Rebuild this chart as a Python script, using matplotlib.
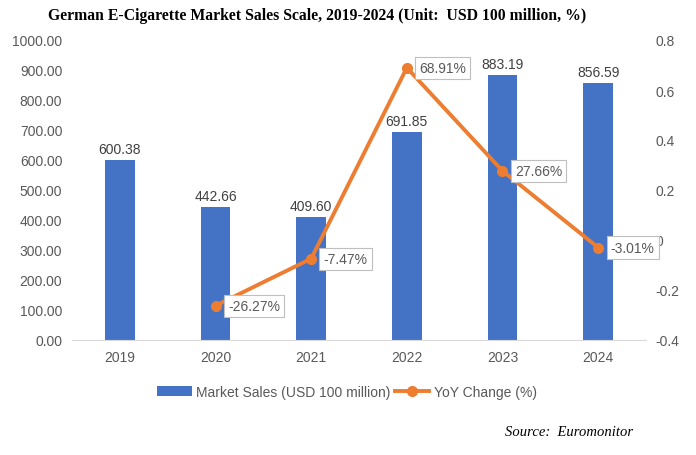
import numpy as np
import matplotlib.pyplot as plt

plt.rcParams['font.family'] = ['Liberation Sans', 'DejaVu Sans']

years = ['2019', '2020', '2021', '2022', '2023', '2024']
sales = [600.38, 442.66, 409.60, 691.85, 883.19, 856.59]
yoy = [None, -0.2627, -0.0747, 0.6891, 0.2766, -0.0301]
yoy_labels = ['', '-26.27%', '-7.47%', '68.91%', '27.66%', '-3.01%']

blue = '#4472C4'
orange = '#ED7D31'
grey = '#595959'

fig = plt.figure(figsize=(6.96, 4.56), dpi=100)
ax = fig.add_axes([72/696, 1 - 341/456, 574/696, 300/456])
ax2 = ax.twinx()

x = np.arange(len(years))
bars = ax.bar(x, sales, width=0.31, color=blue, label='Market Sales (USD 100 million)', zorder=2)
for xi, v in zip(x, sales):
    ax.text(xi, v + 14, f'{v:.2f}', ha='center', va='bottom', fontsize=10, color='#404040')

ax.set_ylim(0, 1000)
ax.set_yticks(np.arange(0, 1001, 100))
ax.set_yticklabels([f'{v:.2f}' for v in np.arange(0, 1001, 100)])
ax.set_xlim(-0.5, len(years) - 0.5)
ax.set_xticks(x)
ax.set_xticklabels(years)

xl = x[1:]
yl = yoy[1:]
line, = ax2.plot(xl, yl, color=orange, lw=2.8, marker='o', ms=7, label='YoY Change (%)', zorder=3)
for xi, v, t in zip(xl, yl, yoy_labels[1:]):
    ax2.annotate(t, (xi, v), xytext=(9, 0), textcoords='offset points', ha='left', va='center',
                 fontsize=10, color=grey,
                 bbox=dict(boxstyle='square,pad=0.3', fc='white', ec='#BFBFBF', lw=0.8))
ax2.set_ylim(-0.4, 0.8)
ax2.set_yticks(np.arange(-0.4, 0.81, 0.2))
ax2.set_yticklabels(['-0.4', '-0.2', '0', '0.2', '0.4', '0.6', '0.8'])

for a in (ax, ax2):
    for s in a.spines.values():
        s.set_visible(False)
    a.tick_params(length=0, labelsize=10, labelcolor=grey, pad=7)
ax.spines['bottom'].set_visible(True)
ax.spines['bottom'].set_color('#D9D9D9')

fig.text(317/696, 1 - 16/456, 'German E-Cigarette Market Sales Scale, 2019-2024 (Unit:  USD 100 million, %)',
         ha='center', va='center', fontsize=11.3, fontweight='bold', family='Liberation Serif')
fig.legend([bars, line], ['Market Sales (USD 100 million)', 'YoY Change (%)'],
           loc='center', bbox_to_anchor=(347/696, 1 - 393/456), ncol=2, frameon=False,
           fontsize=10, labelcolor=grey, handlelength=2.5, columnspacing=0.3, handletextpad=0.3)
fig.text(633/696, 1 - 433/456, 'Source:  Euromonitor', ha='right', va='center', fontsize=10.5,
         style='italic', family='Liberation Serif')

fig.savefig('out.png', dpi=100)
